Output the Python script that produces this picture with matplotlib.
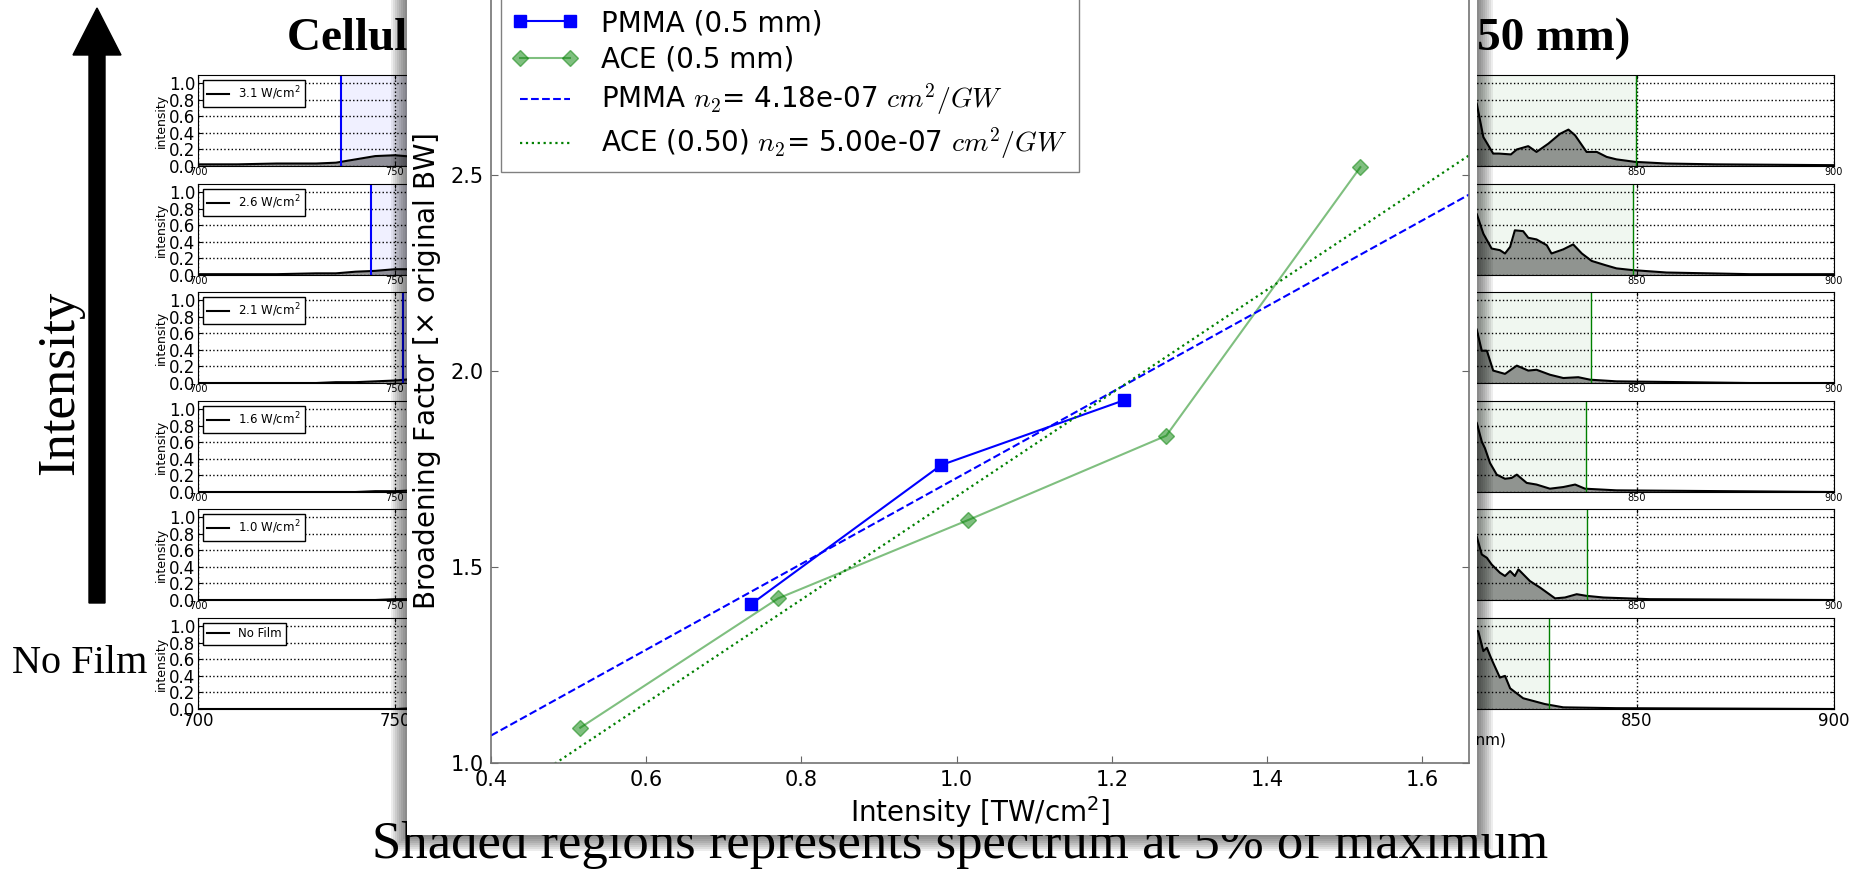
import numpy as np
import matplotlib
matplotlib.use('Agg')
import matplotlib.pyplot as plt
from matplotlib.patches import Rectangle, FancyArrow
from matplotlib.font_manager import FontProperties

W, H = 1850, 869

# ---- main chart: broadening factor vs intensity
pmma_int = [0.735, 0.98, 1.215]
pmma_bf = [1.405, 1.76, 1.925]
ace_int = [0.515, 0.77, 1.015, 1.27, 1.52]
ace_bf = [1.09, 1.42, 1.62, 1.835, 2.52]
fit_int = [0.4, 1.66]
pmma_fit = [1.07, 2.45]
ace_fit = [0.89, 2.55]

# ---- background: spectra panels (top = highest intensity)
panel_labels = ['3.1 W/cm$^2$', '2.6 W/cm$^2$', '2.1 W/cm$^2$',
                '1.6 W/cm$^2$', '1.0 W/cm$^2$', 'No Film']

wl_left = [700, 710, 720, 730, 735, 740, 745, 750, 755, 760, 780, 800, 820, 840, 860, 880, 900]
spec_left = [
    [0.02, 0.02, 0.03, 0.03, 0.04, 0.08, 0.12, 0.13, 0.11, 0.15, 0.40, 0.75, 0.55, 0.25, 0.06, 0.02, 0.01],
    [0.01, 0.01, 0.01, 0.02, 0.02, 0.04, 0.05, 0.07, 0.07, 0.10, 0.35, 0.80, 0.50, 0.20, 0.05, 0.02, 0.01],
    [0.0, 0.0, 0.0, 0.0, 0.01, 0.01, 0.02, 0.03, 0.05, 0.08, 0.40, 0.90, 0.45, 0.15, 0.04, 0.01, 0.0],
    [0.0, 0.0, 0.0, 0.0, 0.0, 0.0, 0.01, 0.01, 0.02, 0.05, 0.45, 0.95, 0.40, 0.10, 0.03, 0.01, 0.0],
    [0.0, 0.0, 0.0, 0.0, 0.0, 0.0, 0.0, 0.01, 0.01, 0.03, 0.50, 1.00, 0.35, 0.08, 0.02, 0.01, 0.0],
    [0.0, 0.0, 0.0, 0.0, 0.0, 0.0, 0.0, 0.0, 0.01, 0.02, 0.55, 1.00, 0.30, 0.06, 0.02, 0.0, 0.0],
]
lo_left = [736.3, 744.0, 752.1, 758.0, 762.0, 768.0]
hi_left = [850.0, 845.0, 840.0, 835.0, 830.0, 825.0]

wl_right = [
    [700, 740, 770, 790, 800, 805, 809.3, 811, 813.5, 815, 818, 819.5, 822.4, 824.5, 827.5, 830.5,
     832.6, 834.3, 837.2, 839.8, 842.3, 844.8, 849.5, 857.5, 870, 900],
    [700, 740, 770, 790, 800, 805, 809.3, 811, 813.1, 815.2, 816.5, 817.8, 819, 821.1, 822.4, 824.5,
     827.1, 828.3, 831.3, 833.8, 836, 838.5, 841.9, 844.8, 848.7, 857.5, 878.7, 900],
    [700, 740, 770, 790, 800, 805, 809.3, 810.6, 811.9, 813.5, 816.5, 819.5, 822.4, 824.5, 827.9,
     831.3, 835.1, 838.1, 844.8, 878.7, 900],
    [700, 740, 770, 790, 800, 805, 809.3, 810.6, 811.4, 812.7, 814.4, 816.5, 818.2, 819.5, 822,
     824.5, 827.9, 831.3, 834.3, 836.8, 844.8, 900],
    [700, 740, 770, 790, 800, 805, 809.3, 810.6, 811.9, 813.1, 815.2, 816.5, 817.8, 819, 819.9,
     822.8, 825.4, 829.2, 831.7, 834.7, 837.2, 841.5, 853.3, 900],
    [700, 740, 770, 790, 800, 805, 809.7, 811, 811.9, 813.1, 815.2, 816.5, 817.8, 821.1, 826.6,
     831.3, 844.8, 900],
]
spec_right = [
    [0.0, 0.02, 0.15, 0.6, 1.0, 0.95, 0.76, 0.35, 0.15, 0.15, 0.14, 0.20, 0.24, 0.17, 0.27, 0.39,
     0.44, 0.37, 0.17, 0.17, 0.11, 0.08, 0.05, 0.03, 0.02, 0.01],
    [0.0, 0.02, 0.15, 0.6, 1.0, 0.95, 0.74, 0.50, 0.32, 0.30, 0.26, 0.34, 0.54, 0.53, 0.45, 0.43,
     0.36, 0.26, 0.31, 0.37, 0.26, 0.17, 0.12, 0.08, 0.06, 0.03, 0.01, 0.01],
    [0.0, 0.02, 0.15, 0.6, 1.0, 0.90, 0.65, 0.39, 0.39, 0.15, 0.11, 0.21, 0.15, 0.16, 0.10,
     0.06, 0.07, 0.04, 0.02, 0.0, 0.0],
    [0.0, 0.02, 0.15, 0.6, 1.0, 0.95, 0.84, 0.61, 0.53, 0.35, 0.21, 0.16, 0.17, 0.21, 0.11,
     0.09, 0.04, 0.06, 0.09, 0.04, 0.02, 0.0],
    [0.0, 0.02, 0.15, 0.6, 1.0, 0.95, 0.77, 0.55, 0.51, 0.43, 0.33, 0.29, 0.35, 0.29, 0.37,
     0.23, 0.15, 0.02, 0.03, 0.07, 0.05, 0.03, 0.01, 0.0],
    [0.0, 0.02, 0.15, 0.6, 1.0, 1.0, 0.94, 0.70, 0.74, 0.60, 0.38, 0.40, 0.25, 0.13, 0.06,
     0.02, 0.01, 0.0],
]
lo_right = [760.0, 765.0, 770.0, 772.0, 775.0, 778.0]
hi_right = [849.7, 849.0, 838.2, 837.0, 837.2, 827.7]

panel_tops = [75, 184, 292, 401, 509, 618]
panel_h = 91


def px_rect(l, t, r, b):
    # pixel box (top-left origin) -> figure fraction rect
    return [l / W, 1 - b / H, (r - l) / W, (b - t) / H]


fig = plt.figure(figsize=(W / 100, H / 100), dpi=100)

# background layer for slide text
bg = fig.add_axes([0, 0, 1, 1], zorder=0)
bg.set_xlim(0, W)
bg.set_ylim(H, 0)
bg.axis('off')

serif = ['Liberation Serif', 'DejaVu Serif']
bg.text(287, 50, 'Cellulose Acetate', ha='left', va='baseline', fontsize=34,
        fontweight='bold', family=serif)
bg.text(1630, 50, '(0.50 mm)', ha='right', va='baseline', fontsize=34,
        fontweight='bold', family=serif)
bg.text(73, 383, 'Intensity', rotation=90, rotation_mode='anchor', ha='center',
        va='baseline', fontsize=38, family=serif)
bg.text(12, 673, 'No Film', ha='left', va='baseline', fontsize=29, family=serif)
bg.text(960, 858, 'Shaded regions represents spectrum at 5% of maximum', ha='center',
        va='baseline', fontsize=38, family=serif)
bg.add_patch(FancyArrow(97, 603, 0, -595, width=16, head_width=48, head_length=47,
                        length_includes_head=True, color='k'))


def spectrum_panel(rect, wl, spec, lo, hi, col, label, bottom, left_col):
    a = fig.add_axes(rect, zorder=1)
    a.axvspan(lo, hi, color=col, alpha=0.06, lw=0)
    a.fill_between(wl, spec, 0, color='k', alpha=0.4, lw=0)
    a.plot(wl, spec, color='k', lw=1.5, label=label)
    a.axvline(lo, color=col, lw=1.5 if left_col else 1.0)
    a.axvline(hi, color=col, lw=1.5 if left_col else 1.0)
    a.set_xlim(700, 900)
    a.set_ylim(0, 1.1)
    a.set_yticks([0.0, 0.2, 0.4, 0.6, 0.8, 1.0])
    a.set_xticks([700, 750, 800, 850, 900])
    a.grid(True, ls=':', color='k', lw=1)
    a.tick_params(direction='in', top=True, right=True, length=3, pad=2)
    a.tick_params(axis='y', labelsize=12)
    a.tick_params(axis='x', labelsize=12 if bottom else 7, pad=2 if bottom else 1)
    a.set_ylabel('intensity', fontsize=9, labelpad=1)
    if bottom:
        a.set_xlabel('Wavelength (nm)', fontsize=11, labelpad=2)
    a.legend(loc='upper left', fontsize=8.5, fancybox=False, edgecolor='k', framealpha=1,
             borderaxespad=0.4, handlelength=1.8)
    return a


for i in range(6):
    top = panel_tops[i]
    spectrum_panel(px_rect(198, top, 986, top + panel_h), wl_left, spec_left[i],
                   lo_left[i], hi_left[i], 'b', panel_labels[i], i == 5, True)
    spectrum_panel(px_rect(1046, top, 1834, top + panel_h), wl_right[i], spec_right[i],
                   lo_right[i], hi_right[i], 'g', panel_labels[i], i == 5, False)

# overlay card with soft shadow
ov = fig.add_axes([0, 0, 1, 1], zorder=5)
ov.set_xlim(0, W)
ov.set_ylim(H, 0)
ov.axis('off')
bx0, bx1, by1 = 407, 1477, 835
for k in range(8, 0, -1):
    d = 2 * k
    ov.add_patch(Rectangle((bx0 - d, -20), bx1 - bx0 + 2 * d, by1 + 20 + d,
                           facecolor='k', edgecolor='none', alpha=0.07))
ov.add_patch(Rectangle((bx0, -20), bx1 - bx0, by1 + 20, facecolor='white', edgecolor='none'))

# main chart
ax = fig.add_axes(px_rect(491, -21, 1469, 763), zorder=6)
ax.plot(pmma_int, pmma_bf, 'b-', marker='s', ms=8, lw=1.5, label='PMMA (0.5 mm)')
ax.plot(ace_int, ace_bf, 'g-', marker='D', ms=8, lw=1.5, alpha=0.5, label='ACE (0.5 mm)')
ax.plot(fit_int, pmma_fit, 'b--', lw=1.5,
        label='PMMA $n_2$= 4.18e-07 $cm^2/GW$')
ax.plot(fit_int, ace_fit, 'g:', lw=1.6,
        label='ACE (0.50) $n_2$= 5.00e-07 $cm^2/GW$')
ax.set_xlim(0.4, 1.66)
ax.set_ylim(1.0, 3.0)
ax.set_xticks([0.4, 0.6, 0.8, 1.0, 1.2, 1.4, 1.6])
ax.set_yticks([1.0, 1.5, 2.0, 2.5, 3.0])
ax.tick_params(direction='in', top=True, right=True, length=5, labelsize=15,
               color='0.4', pad=5)
for s in ax.spines.values():
    s.set_color('0.45')
    s.set_linewidth(1.2)
ax.set_xlabel('Intensity [TW/cm$^2$]', fontsize=20, labelpad=3)
ax.set_ylabel(r'Broadening Factor [$\times$ original BW]', fontsize=20, labelpad=6)
ax.legend(loc='upper left', bbox_to_anchor=(501 / W, 1 + 2 / H),
          bbox_transform=fig.transFigure, borderaxespad=0, numpoints=2,
          prop=FontProperties(size=20, math_fontfamily='cm'), labelspacing=0.3,
          handlelength=2.4, fancybox=False, framealpha=1, edgecolor='0.5')

fig.savefig('out.png', dpi=100)
